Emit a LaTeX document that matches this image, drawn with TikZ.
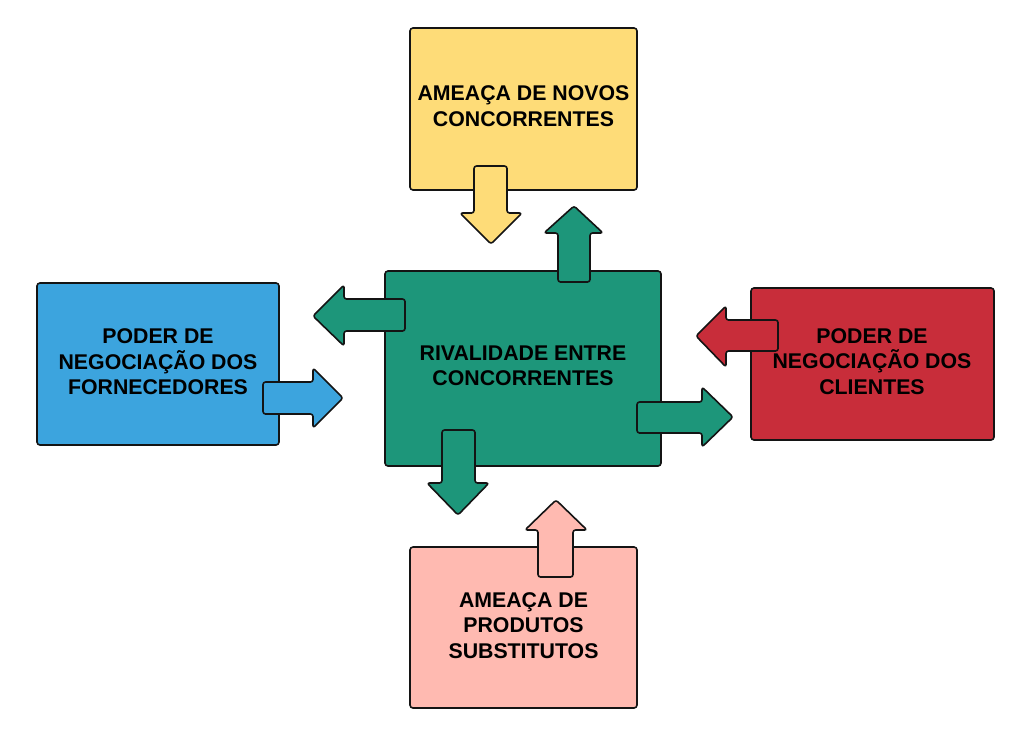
\documentclass[tikz,border=0pt]{standalone}
\usepackage{fontspec}
\setmainfont{Liberation Sans}
\definecolor{cyellow}{RGB}{254,220,120}
\definecolor{cgreen}{RGB}{29,150,122}
\definecolor{cblue}{RGB}{60,164,222}
\definecolor{cred}{RGB}{200,45,58}
\definecolor{cpink}{RGB}{255,186,177}
\definecolor{cline}{RGB}{20,20,20}
\begin{document}
\begin{tikzpicture}[x=1pt,y=-1pt,
  box/.style={draw=cline,line width=1.6pt,rounded corners=3pt,inner sep=0pt},
  label/.style={inner sep=0pt,align=center,font=\fontsize{21.3}{25.5}\selectfont\bfseries,text=black},
  blockarrow/.style={draw=cline,line width=1.6pt,rounded corners=2.5pt,line join=round}]
\useasboundingbox (0,0) rectangle (1024,731);
\fill[white] (0,0) rectangle (1024,731);
% boxes
\node[box,fill=cyellow,minimum width=227pt,minimum height=162pt] (novos) at (523.5,109) {};
\node[box,fill=cblue,minimum width=242pt,minimum height=162pt] (forn) at (158,364) {};
\node[box,fill=cgreen,minimum width=276pt,minimum height=195pt] (rival) at (523,368.5) {};
\node[box,fill=cred,minimum width=243pt,minimum height=152pt] (cli) at (872.5,364) {};
\node[box,fill=cpink,minimum width=227pt,minimum height=161pt] (subst) at (523.5,627.5) {};
% arrows
% yellow down
\draw[blockarrow,fill=cyellow] (474,166) -- (507,166) -- (507,213) -- (522,213) -- (491,244) -- (460,213) -- (474,213) -- cycle;
% green up (top)
\draw[blockarrow,fill=cgreen] (558,282) -- (590,282) -- (590,233) -- (603,233) -- (574,206) -- (544,233) -- (558,233) -- cycle;
% green down (bottom)
\draw[blockarrow,fill=cgreen] (442,430) -- (475,430) -- (475,483) -- (489,483) -- (458,515) -- (427,483) -- (442,483) -- cycle;
% pink up
\draw[blockarrow,fill=cpink] (538,577) -- (573,577) -- (573,530) -- (587,530) -- (556,500) -- (525,530) -- (538,530) -- cycle;
% green left
\draw[blockarrow,fill=cgreen] (405,299) -- (405,331) -- (344,331) -- (344,346) -- (313,316) -- (344,285) -- (344,299) -- cycle;
% blue right
\draw[blockarrow,fill=cblue] (263,382) -- (263,414) -- (313,414) -- (313,428) -- (343,398) -- (313,368) -- (313,382) -- cycle;
% red left
\draw[blockarrow,fill=cred] (778,320) -- (778,351) -- (726,351) -- (726,367) -- (696,336) -- (726,306) -- (726,320) -- cycle;
% green right
\draw[blockarrow,fill=cgreen] (637,402) -- (637,433) -- (702,433) -- (702,447) -- (733,417) -- (702,387) -- (702,402) -- cycle;
% texts
\node[label] (tnovos) at (523.5,106) {AMEAÇA DE NOVOS\\CONCORRENTES};
\node[label] (tforn) at (158,362) {PODER DE\\NEGOCIAÇÃO DOS\\FORNECEDORES};
\node[label] (trival) at (523,366) {RIVALIDADE ENTRE\\CONCORRENTES};
\node[label] (tcli) at (872,361.5) {PODER DE\\NEGOCIAÇÃO DOS\\CLIENTES};
\node[label] (tsubst) at (523.5,625.5) {AMEAÇA DE\\PRODUTOS\\SUBSTITUTOS};
\end{tikzpicture}
\end{document}
